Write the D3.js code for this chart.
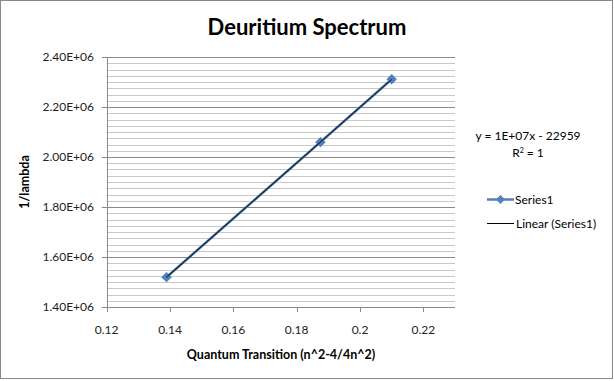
<!DOCTYPE html>
<html>
<head>
<meta charset="utf-8">
<script src="https://cdn.jsdelivr.net/npm/d3@7"></script>
<style>
  body { margin: 0; background: #fff; }
  svg { display: block; font-family: Lato, "Open Sans", sans-serif; }
</style>
</head>
<body>
<div id="chart"></div>
<script>
// quantum transition (n^2-4)/(4n^2) and 1/lambda readings
var transition = [0.1389, 0.1875, 0.21];
var inv_lambda = [1.5195e6, 2.0595e6, 2.311e6];
var x_ticks = [0.12, 0.14, 0.16, 0.18, 0.2, 0.22];
var y_ticks = [1.4e6, 1.6e6, 1.8e6, 2.0e6, 2.2e6, 2.4e6];
var series_name = 'Series1';
var trend_name = 'Linear (Series1)';
var equation = 'y = 1E+07x - 22959';

var width = 614, height = 381;
var plot_left = 106.7, plot_right = 455, plot_top = 57, plot_bottom = 307;

var svg = d3.select('#chart').append('svg').attr('width', width).attr('height', height);

svg.append('rect').attr('x', 0.5).attr('y', 0.5).attr('width', 612).attr('height', 378)
    .attr('fill', '#fff').attr('stroke', '#888');

var x = d3.scaleLinear().domain([0.12, 0.23]).range([plot_left, plot_right]);
var y = d3.scaleLinear().domain([1.4e6, 2.4e6]).range([plot_bottom, plot_top]);

// minor gridlines
var minor = d3.range(1.4e6, 2.4e6 + 1, 0.025e6);
svg.selectAll('line.minor')
    .data(minor)
    .enter()
    .append('line')
    .attr('class', 'minor')
    .attr('x1', plot_left).attr('x2', plot_right)
    .attr('y1', function(d){ return Math.round(y(d)) + 0.5; })
    .attr('y2', function(d){ return Math.round(y(d)) + 0.5; })
    .attr('stroke', '#c8c8c8').attr('stroke-width', 1);

// major gridlines
svg.selectAll('line.major')
    .data(y_ticks)
    .enter()
    .append('line')
    .attr('class', 'major')
    .attr('x1', plot_left - 5).attr('x2', plot_right)
    .attr('y1', function(d){ return Math.round(y(d)) + 0.5; })
    .attr('y2', function(d){ return Math.round(y(d)) + 0.5; })
    .attr('stroke', '#8a8a8a').attr('stroke-width', 1);

// vertical axis line
svg.append('line')
    .attr('x1', Math.round(plot_left) + 0.5).attr('x2', Math.round(plot_left) + 0.5)
    .attr('y1', plot_top).attr('y2', plot_bottom)
    .attr('stroke', '#8a8a8a');

// x axis ticks
svg.selectAll('line.xtick')
    .data(x_ticks)
    .enter()
    .append('line')
    .attr('class', 'xtick')
    .attr('x1', function(d){ return Math.round(x(d)) + 0.5; })
    .attr('x2', function(d){ return Math.round(x(d)) + 0.5; })
    .attr('y1', plot_bottom).attr('y2', plot_bottom + 5)
    .attr('stroke', '#8a8a8a');

svg.selectAll('text.xlab')
    .data(x_ticks)
    .enter()
    .append('text')
    .attr('class', 'xlab')
    .attr('x', function(d){ return x(d); })
    .attr('y', 334)
    .attr('text-anchor', 'middle')
    .attr('font-size', '12px')
    .attr('fill', '#222')
    .text(function(d){ return String(d); });

svg.selectAll('text.ylab')
    .data(y_ticks)
    .enter()
    .append('text')
    .attr('class', 'ylab')
    .attr('x', 94)
    .attr('y', function(d){ return y(d) + 4; })
    .attr('text-anchor', 'end')
    .attr('font-size', '12px')
    .attr('fill', '#222')
    .text(function(d){ return (d / 1e6).toFixed(2) + 'E+06'; });

// titles
svg.append('text').attr('x', 307).attr('y', 35).attr('text-anchor', 'middle')
    .attr('font-size', '22px').attr('font-weight', 'bold').attr('fill', '#000')
    .text('Deuritium Spectrum');

svg.append('text').attr('x', 281).attr('y', 359).attr('text-anchor', 'middle')
    .attr('font-size', '12.5px').attr('font-weight', 'bold').attr('fill', '#000')
    .text('Quantum Transition  (n^2-4/4n^2)');

svg.append('text').attr('transform', 'translate(29,182) rotate(-90)').attr('text-anchor', 'middle')
    .attr('font-size', '12.5px').attr('font-weight', 'bold').attr('fill', '#000')
    .text('1/lambda');

// series line with diamond markers
var pts = transition.map(function(d, i){ return [d, inv_lambda[i]]; });
var line = d3.line().x(function(d){ return x(d[0]); }).y(function(d){ return y(d[1]); });

svg.append('path').datum(pts).attr('d', line)
    .attr('fill', 'none').attr('stroke', '#4a7ab5').attr('stroke-width', 2.5);

svg.selectAll('path.marker')
    .data(pts)
    .enter()
    .append('path')
    .attr('class', 'marker')
    .attr('d', d3.symbol().type(d3.symbolSquare).size(55))
    .attr('transform', function(d){ return 'translate(' + x(d[0]) + ',' + y(d[1]) + ') rotate(45)'; })
    .attr('fill', '#4f81bd');

// linear trendline (least squares)
var mx = d3.mean(transition), my = d3.mean(inv_lambda);
var sxy = d3.sum(pts, function(d){ return (d[0] - mx) * (d[1] - my); });
var sxx = d3.sum(transition, function(d){ return (d - mx) * (d - mx); });
var slope = sxy / sxx, icpt = my - slope * mx;
var x0 = d3.min(transition), x1 = d3.max(transition);
svg.append('path').datum([[x0, slope * x0 + icpt], [x1, slope * x1 + icpt]]).attr('d', line)
    .attr('fill', 'none').attr('stroke', '#111').attr('stroke-width', 1.2).attr('opacity', 0.75);

// equation label
svg.append('text').attr('x', 528).attr('y', 140).attr('text-anchor', 'middle')
    .attr('font-size', '12px').attr('fill', '#000').text(equation);
var r2 = svg.append('text').attr('x', 528).attr('y', 157).attr('text-anchor', 'middle')
    .attr('font-size', '12px').attr('fill', '#000');
r2.append('tspan').text('R');
r2.append('tspan').attr('font-size', '7px').attr('dy', -4).text('2');
r2.append('tspan').attr('dy', 4).text(' = 1');

// legend
svg.append('line').attr('x1', 487).attr('x2', 514).attr('y1', 199.5).attr('y2', 199.5)
    .attr('stroke', '#4f81bd').attr('stroke-width', 2.5);
svg.append('path').attr('d', d3.symbol().type(d3.symbolSquare).size(40))
    .attr('transform', 'translate(500.5,199.5) rotate(45)').attr('fill', '#4f81bd');
svg.append('text').attr('x', 515).attr('y', 203.5).attr('font-size', '12px').attr('fill', '#000')
    .text(series_name);

svg.append('line').attr('x1', 487).attr('x2', 514).attr('y1', 223.5).attr('y2', 223.5)
    .attr('stroke', '#000').attr('stroke-width', 1);
svg.append('text').attr('x', 516).attr('y', 227.5).attr('font-size', '12px').attr('fill', '#000')
    .text(trend_name);
</script>
</body>
</html>
